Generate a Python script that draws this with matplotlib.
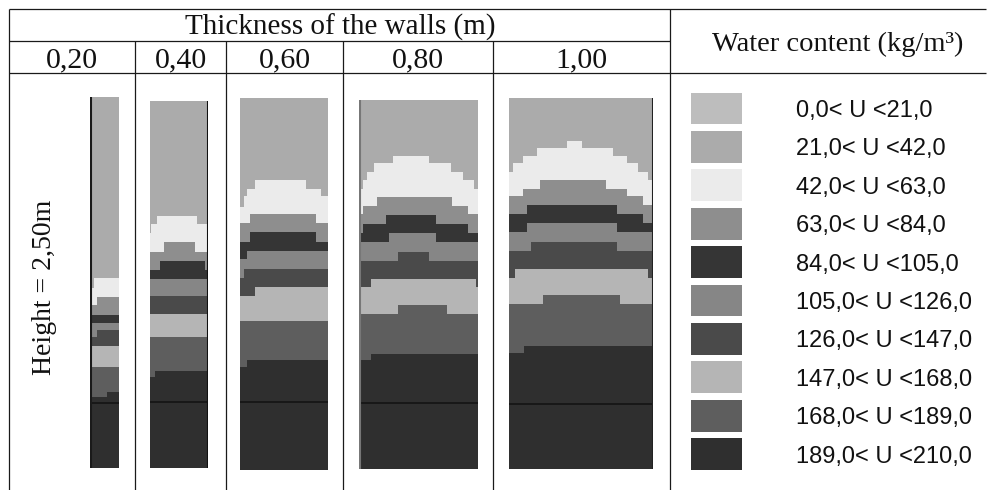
import numpy as np
import matplotlib
matplotlib.use('Agg')
import matplotlib.pyplot as plt

# wall thickness (m) and header labels
thickness = [0.20, 0.40, 0.60, 0.80, 1.00]
thickness_labels = ['0,20', '0,40', '0,60', '0,80', '1,00']
wall_height = 2.50

# water content classes (kg/m3) and their grey levels
class_labels = ['0,0< U <21,0', '21,0< U <42,0', '42,0< U <63,0', '63,0< U <84,0',
                '84,0< U <105,0', '105,0< U <126,0', '126,0< U <147,0',
                '147,0< U <168,0', '168,0< U <189,0', '189,0< U <210,0']
class_colors = ['#bdbdbd', '#ababab', '#ebebeb', '#8e8e8e', '#353535',
                '#868686', '#4a4a4a', '#b5b5b5', '#5e5e5e', '#2f2f2f']

# zone limits in each wall: 8 stepped boundaries, from top (21-42 / 42-63) to bottom
# (168-189 / 189-210). x = start of each step (m from wall face), h = height (m)
x_020 = [[0, 0.023], [0, 0.047], [0], [0], [0, 0.047], [0], [0], [0, 0.118]]
h_020 = [[1.21, 1.28], [1.10, 1.15], [1.03], [0.98], [0.88, 0.93], [0.82], [0.68], [0.48, 0.51]]

x_040 = [[0, 0.011, 0.05, 0.325], [0, 0.096, 0.309], [0, 0.073, 0.377], [0], [0], [0], [0], [0, 0.034]]
h_040 = [[1.60, 1.66, 1.72, 1.66], [1.47, 1.54, 1.47], [1.35, 1.41, 1.35], [1.29], [1.17], [1.05],
         [0.89], [0.62, 0.66]]

x_060 = [[0, 0.023, 0.046, 0.098, 0.448, 0.553], [0, 0.066, 0.514], [0, 0.066, 0.514], [0, 0.046],
         [0, 0.023], [0, 0.098], [0], [0, 0.046]]
h_060 = [[1.77, 1.84, 1.89, 1.95, 1.89, 1.84], [1.66, 1.72, 1.66], [1.53, 1.60, 1.53], [1.42, 1.47],
         [1.29, 1.35], [1.17, 1.23], [1.00], [0.69, 0.74]]

x_080 = [[0, 0.022, 0.05, 0.099, 0.229, 0.469, 0.615, 0.699, 0.771],
         [0, 0.022, 0.121, 0.621, 0.733], [0, 0.027, 0.18, 0.516, 0.733], [0, 0.202, 0.516],
         [0, 0.258, 0.469], [0, 0.078, 0.782], [0, 0.258, 0.592], [0, 0.078]]
h_080 = [[1.90, 1.96, 2.01, 2.07, 2.12, 2.07, 2.01, 1.96, 1.90],
         [1.73, 1.78, 1.84, 1.78, 1.73], [1.60, 1.66, 1.72, 1.66, 1.60], [1.54, 1.60, 1.54],
         [1.41, 1.47, 1.41], [1.23, 1.29, 1.23], [1.05, 1.11, 1.05], [0.74, 0.78]]

x_100 = [[0, 0.03, 0.095, 0.197, 0.40, 0.505, 0.725, 0.817, 0.898, 0.967],
         [0, 0.095, 0.215, 0.674, 0.817, 0.933], [0, 0.127, 0.748, 0.933], [0, 0.127, 0.748],
         [0, 0.15, 0.748], [0, 0.042, 0.967], [0, 0.238, 0.771], [0, 0.106]]
h_100 = [[2.00, 2.06, 2.11, 2.16, 2.21, 2.16, 2.11, 2.06, 2.00, 1.95],
         [1.84, 1.89, 1.95, 1.89, 1.84, 1.78], [1.72, 1.78, 1.72, 1.66], [1.60, 1.66, 1.60],
         [1.47, 1.53, 1.47], [1.29, 1.35, 1.29], [1.11, 1.17, 1.11], [0.78, 0.83]]

ground_level = [0.44, 0.45, 0.455, 0.445, 0.44]

wall_x = [x_020, x_040, x_060, x_080, x_100]
wall_h = [h_020, h_040, h_060, h_080, h_100]

W, H = 995, 490
fig = plt.figure(figsize=(W / 100, H / 100), dpi=100)
fig.patch.set_facecolor('white')

serif = ['Liberation Serif', 'DejaVu Serif']
sans = ['Liberation Sans', 'DejaVu Sans']

# table frame, drawn in pixel units
bg = fig.add_axes([0, 0, 1, 1])
bg.set_xlim(0, W)
bg.set_ylim(H, 0)
bg.axis('off')
lc = '#1a1a1a'
lw = 0.9
bg.hlines(9, 9, 986, color=lc, lw=lw)
bg.hlines(41, 9, 670, color=lc, lw=lw)
bg.hlines(73, 9, 986, color=lc, lw=lw)
bg.vlines([9, 670], 9, H, color=lc, lw=lw)
col_edges = [9, 135, 226, 343, 493, 670]
bg.vlines(col_edges[1:-1], 41, H, color=lc, lw=lw)

bg.text(340, 35, 'Thickness of the walls (m)', ha='center', va='baseline',
        fontsize=21, family=serif, color='#111111')
for i, lab in enumerate(thickness_labels):
    bg.text((col_edges[i] + col_edges[i + 1]) / 2, 67.5, lab, ha='center', va='baseline',
            fontsize=21.5, family=serif, color='#111111')
bg.text(838, 51, 'Water content (kg/m\u00b3)', ha='center', va='baseline',
        fontsize=20.5, family=serif, color='#111111')
bg.text(45, 287, 'Height = 2,50m', ha='center', va='center', rotation=90,
        fontsize=20, family=serif, color='#111111')

# wall boxes in pixels: left, right, top, bottom
wall_boxes = [(90.5, 119.3, 97, 468), (149.7, 208.3, 101, 468), (240.3, 328.3, 98, 470),
              (359.3, 478.3, 100, 469), (509, 653, 98, 469)]
edge_side = ['left', 'right', None, 'left', 'right']
edge_color = ['#1a1a1a', '#111111', None, '#777777', '#222222']

for i, t in enumerate(thickness):
    l, r, top, bot = wall_boxes[i]
    ax = fig.add_axes([l / W, 1 - bot / H, (r - l) / W, (bot - top) / H])
    ax.set_xlim(0, t)
    ax.set_ylim(0, wall_height)
    ax.axis('off')
    ax.fill_between([0, t], 0, wall_height, color=class_colors[1], lw=0)
    for k in range(8):
        xs = wall_x[i][k] + [t]
        hs = wall_h[i][k] + [wall_h[i][k][-1]]
        ax.fill_between(xs, 0, hs, step='post', color=class_colors[k + 2], lw=0)
    ax.axhline(ground_level[i], color='#141414', lw=1.2)
    if edge_side[i] == 'left':
        ax.axvline(0.004 * t / 0.2 if t < 0.5 else 0.003, color=edge_color[i], lw=1.5)
    elif edge_side[i] == 'right':
        ax.axvline(t, color=edge_color[i], lw=1.5)

# legend
lg = fig.add_axes([680 / W, 1 - 473.3 / H, 305 / W, 384 / H])
lg.set_xlim(0, 1)
lg.set_ylim(9.5, -0.5)
lg.axis('off')
idx = np.arange(len(class_labels))
lg.barh(idx, 0.167, left=0.035, height=0.83, color=class_colors, lw=0)
for i, lab in enumerate(class_labels):
    lg.text(0.38, i + 0.22, lab, ha='left', va='baseline', fontsize=17,
            family=sans, color='#111111')

fig.savefig('out.png', dpi=100)
